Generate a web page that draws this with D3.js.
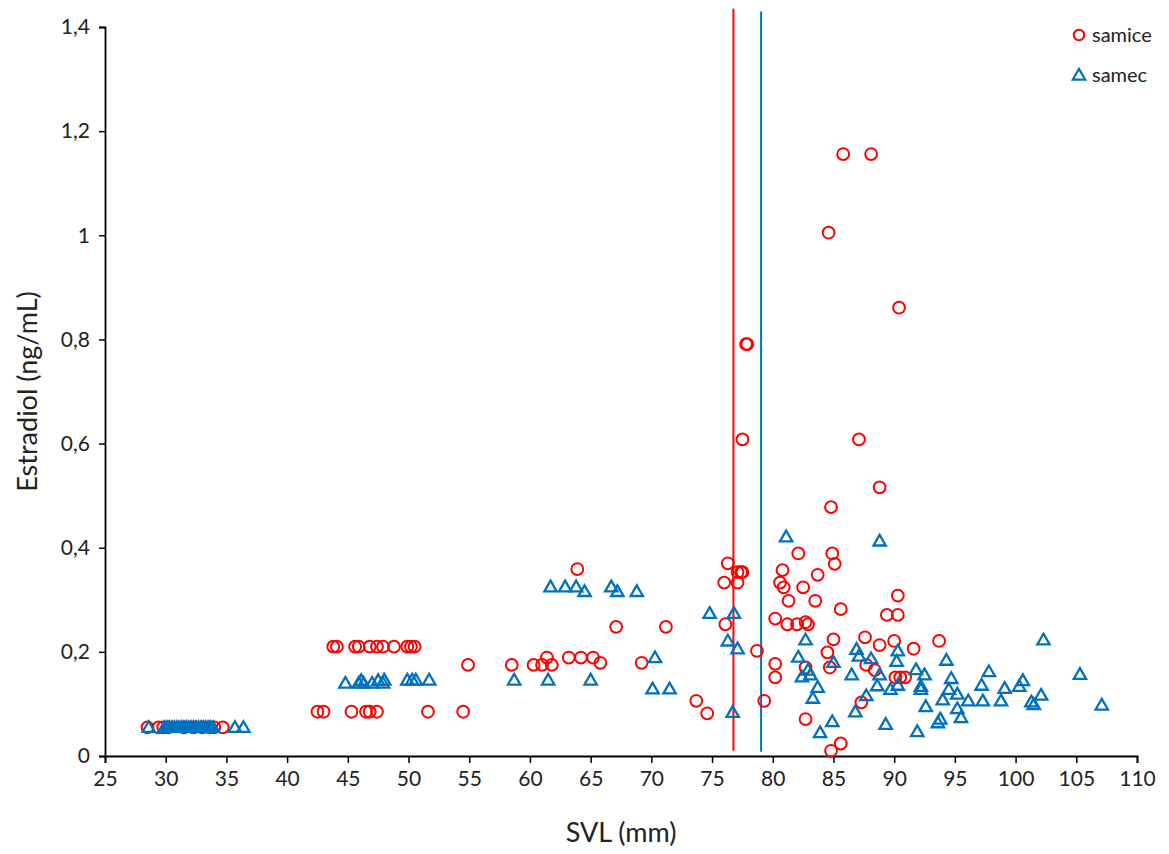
<!DOCTYPE html>
<html>
<head>
<meta charset="utf-8">
<script src="https://cdn.jsdelivr.net/npm/d3@7"></script>
<style>
body{margin:0;background:#fff;}
svg text{font-family:Lato,"Open Sans",sans-serif;fill:#222;}
</style>
</head>
<body>
<svg id="graph"></svg>
<script>
// samice (females): [SVL mm, estradiol ng/mL]
var samice=[
[28.5,0.055],[29.4,0.055],[29.8,0.055],[30.2,0.055],[31.5,0.055],[32.3,0.055],[33.0,0.055],[33.6,0.055],[34.0,0.055],[34.7,0.055],
[43.8,0.21],[44.1,0.21],[45.6,0.21],[45.9,0.21],[46.8,0.21],[47.4,0.21],[47.9,0.21],[48.8,0.21],[49.9,0.21],[50.2,0.21],[50.5,0.21],
[42.5,0.085],[43.0,0.085],[45.3,0.085],[46.5,0.085],[46.8,0.085],[47.4,0.085],[51.6,0.085],[54.5,0.085],
[54.9,0.175],[58.5,0.175],[60.3,0.175],[61.0,0.175],[61.4,0.189],[61.8,0.175],[63.2,0.189],[64.2,0.189],[65.2,0.189],[65.8,0.179],
[63.9,0.359],[67.1,0.248],[71.2,0.248],[69.2,0.179],[73.7,0.106],[74.6,0.082],
[77.5,0.608],[87.1,0.608],[88.8,0.516],[84.8,0.478],[82.1,0.389],[84.9,0.389],[85.1,0.369],[76.3,0.370],
[77.1,0.353],[77.4,0.353],[77.5,0.353],[76.0,0.333],[77.1,0.333],[80.8,0.357],[80.6,0.333],[80.9,0.324],
[83.7,0.348],[82.5,0.324],[81.3,0.298],[83.5,0.298],[85.6,0.282],[90.3,0.308],[89.4,0.271],[90.3,0.271],
[80.2,0.264],[81.2,0.253],[82.0,0.253],[82.7,0.257],[82.9,0.253],[76.1,0.253],[78.7,0.202],
[80.2,0.177],[80.2,0.151],[79.3,0.106],[85.0,0.224],[87.6,0.228],[88.8,0.213],[90.0,0.221],[91.6,0.206],
[84.5,0.199],[82.7,0.170],[84.7,0.170],[87.7,0.175],[88.4,0.165],[90.1,0.151],[90.5,0.151],[90.9,0.151],
[87.3,0.103],[82.7,0.071],[84.8,0.010],[85.6,0.024],[93.7,0.221],
[85.8,1.156],[88.1,1.156],[84.6,1.005],[90.4,0.861],[77.9,0.791],[77.8,0.791]
];
// samec (males)
var samec=[
[28.6,0.055],[29.9,0.055],[30.1,0.055],[30.3,0.055],[30.5,0.055],[30.7,0.055],[30.9,0.055],[31.1,0.055],[31.3,0.055],[31.5,0.055],
[31.7,0.055],[31.9,0.055],[32.1,0.055],[32.3,0.055],[32.5,0.055],[32.7,0.055],[32.9,0.055],[33.1,0.055],[33.3,0.055],[33.5,0.055],
[33.7,0.055],[33.9,0.055],[35.7,0.055],[36.4,0.055],
[44.8,0.14],[45.9,0.14],[46.1,0.145],[46.3,0.14],[47.0,0.14],[47.5,0.145],[47.9,0.14],[48.0,0.146],[49.9,0.146],[50.3,0.146],[50.6,0.146],[51.7,0.146],
[61.7,0.325],[62.9,0.325],[63.8,0.325],[64.5,0.316],[66.7,0.325],[67.2,0.316],[68.8,0.316],
[58.7,0.146],[61.5,0.146],[65.0,0.146],[70.3,0.189],[70.1,0.129],[71.5,0.129],
[81.1,0.421],[88.8,0.413],[74.8,0.274],[76.8,0.274],[76.3,0.221],[77.1,0.206],[76.7,0.084],
[82.7,0.223],[82.1,0.190],[86.9,0.205],[87.1,0.192],[88.1,0.187],[90.3,0.202],[90.2,0.182],
[82.9,0.165],[83.1,0.156],[82.4,0.152],[85.0,0.180],[86.5,0.156],[88.8,0.156],[88.6,0.135],
[89.7,0.128],[90.3,0.136],[83.7,0.132],[83.3,0.111],[87.7,0.116],[86.8,0.085],[84.9,0.066],
[83.9,0.045],[89.3,0.061],[91.8,0.166],[91.9,0.047],
[102.3,0.223],[94.3,0.184],[92.5,0.156],[94.7,0.149],[97.8,0.162],[92.2,0.134],[92.2,0.128],
[94.5,0.128],[95.2,0.119],[97.2,0.136],[99.1,0.130],[100.3,0.134],[100.6,0.145],[102.1,0.117],
[101.3,0.104],[101.5,0.099],[94.0,0.108],[96.1,0.106],[97.3,0.106],[98.8,0.106],[92.6,0.095],
[95.2,0.091],[95.5,0.074],[93.8,0.071],[93.6,0.064],[105.3,0.157],[107.1,0.098]
];
// mean SVL lines
var meanLines=[{name:"samice",x:76.76,y0:0.01,y1:1.435},{name:"samec",x:79.04,y0:0.008,y1:1.43}];
var xTicks=d3.range(25,111,5);
var yTicks=[0,0.2,0.4,0.6,0.8,1,1.2,1.4];

var screen={width:1169,height:854};
var margin={top:27,right:32,bottom:98,left:105};
var colors={samice:"#FF0000",samec:"#0070C0"};

var svg=d3.select("#graph").attr("width",screen.width).attr("height",screen.height);

var xScale=d3.scaleLinear().domain([25,110]).range([margin.left,screen.width-margin.right]);
var yScale=d3.scaleLinear().domain([0,1.4]).range([screen.height-margin.bottom,margin.top]);

var fmt=function(d){return String(d).replace(".",",")};

var xAxis=svg.append("g")
  .attr("transform","translate(0,"+yScale(0)+")")
  .call(d3.axisBottom(xScale).tickValues(xTicks).tickSize(7).tickPadding(8).tickFormat(d3.format("d")));
var yAxis=svg.append("g")
  .attr("transform","translate("+xScale(25)+",0)")
  .call(d3.axisLeft(yScale).tickValues(yTicks).tickSize(6).tickPadding(9).tickFormat(fmt));
[xAxis,yAxis].forEach(function(a){
  a.select(".domain").attr("stroke","#000").attr("stroke-width",1.8);
  a.selectAll(".tick line").attr("stroke","#000").attr("stroke-width",1.5);
  a.selectAll(".tick text").attr("font-size",21).attr("fill","#222").style("font-family","Lato,'Open Sans',sans-serif");
});

svg.selectAll("line.mean")
  .data(meanLines)
  .enter()
  .append("line")
  .attr("class","mean")
  .attr("x1",function(d){return xScale(d.x)})
  .attr("x2",function(d){return xScale(d.x)})
  .attr("y1",function(d){return yScale(d.y0)})
  .attr("y2",function(d){return yScale(d.y1)})
  .attr("stroke",function(d){return colors[d.name]})
  .attr("stroke-width",2);

var tri=d3.symbol().type(d3.symbolTriangle).size(66);

// samice first, samec drawn on top
svg.append("g").selectAll("circle")
  .data(samice)
  .enter()
  .append("circle")
  .attr("cx",function(d){return xScale(d[0])})
  .attr("cy",function(d){return yScale(d[1])})
  .attr("r",5.9)
  .attr("fill","none")
  .attr("stroke",colors.samice)
  .attr("stroke-width",2);

svg.append("g").selectAll("path")
  .data(samec)
  .enter()
  .append("path")
  .attr("d",tri)
  .attr("transform",function(d){return "translate("+xScale(d[0])+","+(yScale(d[1])+1)+")"})
  .attr("fill","none")
  .attr("stroke",colors.samec)
  .attr("stroke-width",2.3);

// legend
var legend=svg.append("g");
legend.append("circle").attr("cx",1079).attr("cy",35).attr("r",5.2)
  .attr("fill","none").attr("stroke",colors.samice).attr("stroke-width",2);
legend.append("text").attr("x",1092).attr("y",42).attr("font-size",20).text("samice");
legend.append("path").attr("d",tri).attr("transform","translate(1079,76)")
  .attr("fill","none").attr("stroke",colors.samec).attr("stroke-width",2.2);
legend.append("text").attr("x",1092).attr("y",82).attr("font-size",20).text("samec");

// axis titles
svg.append("text").attr("x",(xScale(25)+xScale(110))/2).attr("y",842)
  .attr("text-anchor","middle").attr("font-size",27).text("SVL (mm)");
svg.append("text").attr("transform","translate(37,"+yScale(0.7)+") rotate(-90)")
  .attr("text-anchor","middle").attr("font-size",27).text("Estradiol (ng/mL)");
</script>
</body>
</html>
